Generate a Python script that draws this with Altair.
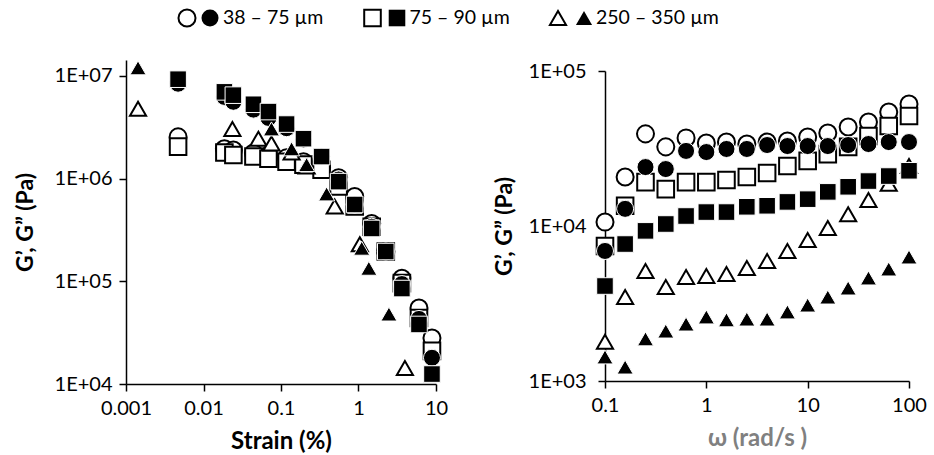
import altair as alt
import pandas as pd

groups = ["38 – 75 µm", "75 – 90 µm", "250 – 350 µm"]
shape_range = ["circle", "square", "triangle-up"]

# ---------- Left panel: strain sweep ----------
strain_fine = [0.0047, 0.0186, 0.0243, 0.0441, 0.0689, 0.118, 0.195, 0.334,
               0.554, 0.893, 1.48, 2.25, 3.63, 6.03, 8.87]
gp_38_75 = [8.4e6, 6.25e6, 5.6e6, 4.7e6, 3.9e6, 3.1e6, 2.4e6, 1.64e6,
            9.8e5, 5.6e5, 3.4e5, 1.95e5, 9.4e4, 4.3e4, 1.8e4]
gpp_38_75 = [2.55e6, 1.95e6, 1.9e6, 1.78e6, 1.7e6, 1.6e6, 1.46e6, 1.28e6,
             1.02e6, 6.7e5, 3.65e5, 1.95e5, 1.07e5, 5.5e4, 2.8e4]
gp_75_90 = [9.3e6, 7.0e6, 6.5e6, 5.3e6, 4.5e6, 3.4e6, 2.45e6, 1.64e6,
            9.35e5, 5.6e5, 3.27e5, 1.95e5, 8.5e4, 3.8e4, 1.25e4]
gpp_75_90 = [2.05e6, 1.8e6, 1.7e6, 1.64e6, 1.56e6, 1.46e6, 1.37e6, 1.22e6,
             8.4e5, 5.35e5, 3.4e5, 1.95e5, 9.6e4, 4.4e4, 2.1e4]
strain_gp_250 = [0.00143, 0.0753, 0.137, 0.214, 0.388, 1.10, 1.36, 2.47]
gp_250_350 = [1.2e7, 3.05e6, 1.95e6, 1.37e6, 7.1e5, 2.1e5, 1.34e5, 4.8e4]
strain_gpp_250 = [0.00143, 0.0236, 0.0511, 0.0753, 0.137, 0.214, 0.493, 1.04, 3.97]
gpp_250_350 = [4.8e6, 3.05e6, 2.45e6, 2.2e6, 1.8e6, 1.31e6, 5.35e5, 2.3e5, 1.43e4]

# ---------- Right panel: frequency sweep ----------
omega = [0.1, 0.158, 0.251, 0.398, 0.631, 1.0, 1.58, 2.51, 3.98, 6.31,
         10.0, 15.8, 25.1, 39.8, 63.1, 100.0]
wgp_38_75 = [6.9e3, 1.29e4, 2.40e4, 2.33e4, 3.05e4, 3.0e4, 3.14e4, 3.14e4,
             3.33e4, 3.28e4, 3.28e4, 3.28e4, 3.33e4, 3.38e4, 3.48e4, 3.48e4]
wgpp_38_75 = [1.06e4, 2.07e4, 3.93e4, 3.24e4, 3.70e4, 3.43e4, 3.48e4, 3.38e4,
              3.48e4, 3.53e4, 3.75e4, 3.98e4, 4.35e4, 4.69e4, 5.44e4, 6.12e4]
wgp_75_90 = [4.1e3, 7.65e3, 9.3e3, 1.03e4, 1.16e4, 1.23e4, 1.23e4, 1.33e4,
             1.35e4, 1.43e4, 1.49e4, 1.66e4, 1.79e4, 1.95e4, 2.1e4, 2.27e4]
wgpp_75_90 = [7.43e3, 1.35e4, 1.92e4, 1.73e4, 1.92e4, 1.92e4, 1.98e4, 2.07e4,
              2.2e4, 2.44e4, 2.63e4, 2.91e4, 3.24e4, 3.81e4, 4.42e4, 5.13e4]
wgp_250_350 = [1.43e3, 1.23e3, 1.87e3, 2.1e3, 2.33e3, 2.59e3, 2.48e3, 2.51e3,
               2.51e3, 2.79e3, 3.09e3, 3.48e3, 3.98e3, 4.62e3, 5.28e3, 6.31e3]
wgpp_250_350 = [1.79e3, 3.48e3, 5.13e3, 4.04e3, 4.69e3, 4.76e3, 4.9e3, 5.36e3,
                5.94e3, 6.9e3, 8.13e3, 9.7e3, 1.19e4, 1.47e4, 1.87e4, 2.44e4]


def rows(xs, ys, group):
    return [{"x": x, "y": y, "group": group} for x, y in zip(xs, ys)]


left_open = pd.DataFrame(rows(strain_fine, gpp_38_75, groups[0])
                         + rows(strain_fine, gpp_75_90, groups[1])
                         + rows(strain_gpp_250, gpp_250_350, groups[2]))
left_filled = pd.DataFrame(rows(strain_fine, gp_38_75, groups[0])
                           + rows(strain_fine, gp_75_90, groups[1])
                           + rows(strain_gp_250, gp_250_350, groups[2]))
right_open = pd.DataFrame(rows(omega, wgpp_38_75, groups[0])
                          + rows(omega, wgpp_75_90, groups[1])
                          + rows(omega, wgpp_250_350, groups[2]))
right_filled = pd.DataFrame(rows(omega, wgp_38_75, groups[0])
                            + rows(omega, wgp_75_90, groups[1])
                            + rows(omega, wgp_250_350, groups[2]))

FONT = "Lato"
axis_style = dict(domainColor="black", domainWidth=1.5, tickColor="black",
                  tickWidth=1.5, tickSize=7, labelColor="black", labelFont=FONT,
                  labelFontSize=20, titleFont=FONT,
                  titleFontWeight="bold", grid=False, labelFlush=False)
ylabel_expr = "'1E+0' + round(log(datum.value) / LN10)"

shape_enc = alt.Shape("group:N", scale=alt.Scale(domain=groups, range=shape_range), legend=None)


def panel(df_open, df_filled, xscale, yscale, xaxis, yaxis, sizes, w, h):
    size_enc = alt.Size("group:N", scale=alt.Scale(domain=groups, range=sizes), legend=None)
    enc = dict(
        x=alt.X("x:Q", scale=xscale, axis=xaxis),
        y=alt.Y("y:Q", scale=yscale, axis=yaxis),
        shape=shape_enc,
        size=size_enc,
    )
    o = alt.Chart(df_open).mark_point(filled=True, fill="white", stroke="black",
                                      strokeWidth=2, opacity=1).encode(**enc)
    f = alt.Chart(df_filled).mark_point(filled=True, fill="black", stroke="white",
                                        strokeWidth=1, opacity=1).encode(**enc)
    return alt.layer(o, f).properties(width=w, height=h)


left = panel(
    left_open, left_filled,
    alt.Scale(type="log", domain=[0.001, 10], nice=False),
    alt.Scale(type="log", domain=[1e4, 1.43e7], nice=False),
    alt.Axis(values=[0.001, 0.01, 0.1, 1, 10], format="~g", labelPadding=7,
             titlePadding=11, title="Strain (%)", titleFontSize=24, **axis_style),
    alt.Axis(values=[1e4, 1e5, 1e6, 1e7], labelExpr=ylabel_expr, labelPadding=7,
             titlePadding=17, title="G’, G”  (Pa)", titleFontSize=23, **axis_style),
    [330, 320, 400], 310, 324,
)

right = panel(
    right_open, right_filled,
    alt.Scale(type="log", domain=[0.1, 100], nice=False),
    alt.Scale(type="log", domain=[1e3, 1e5], nice=False),
    alt.Axis(values=[0.1, 1, 10, 100], format="~g", labelPadding=7,
             titlePadding=11, title="ω (rad/s )", titleColor="#808080",
             titleFontSize=24, **axis_style),
    alt.Axis(values=[1e3, 1e4, 1e5], labelExpr=ylabel_expr, labelPadding=12,
             titlePadding=12, title="G’, G”  (Pa)", titleFontSize=23, **axis_style),
    [190, 170, 240], 304, 310,
)

spacer = alt.Chart(pd.DataFrame({"v": [0]})).mark_point(opacity=0, size=0).encode(
    x=alt.value(0), y=alt.value(0)).properties(width=304, height=1)
right_col = alt.vconcat(spacer, right, spacing=0)

# ---------- Legend ----------
legend_df = pd.DataFrame({"group": groups})


def lx(r0, r1):
    return alt.X("group:N", scale=alt.Scale(type="point", domain=groups, range=[r0, r1], padding=0),
                 axis=None)


leg_size = alt.Size("group:N", scale=alt.Scale(domain=groups, range=[290, 260, 380]), legend=None)
leg_open = alt.Chart(legend_df).mark_point(filled=True, fill="white", stroke="black",
                                           strokeWidth=2, opacity=1).encode(
    x=lx(61, 432), shape=shape_enc, size=leg_size)
leg_filled = alt.Chart(legend_df).mark_point(filled=True, fill="black", opacity=1).encode(
    x=lx(84, 458), shape=shape_enc, size=leg_size)
leg_text = alt.Chart(legend_df).mark_text(align="left", baseline="middle", font=FONT,
                                          fontSize=19.5, color="black").encode(
    x=lx(97, 470), text="group:N")
legend = alt.layer(leg_open, leg_filled, leg_text).resolve_scale(x="independent").properties(
    width=600, height=36)

chart = alt.vconcat(
    legend,
    alt.hconcat(left, right_col, spacing=45),
    spacing=22,
).configure(
    padding={"left": 14, "top": 0, "right": 5, "bottom": 1},
    background="white",
).configure_view(stroke=None)

chart.save("out.html", embed_options={"renderer": "svg", "actions": False})
